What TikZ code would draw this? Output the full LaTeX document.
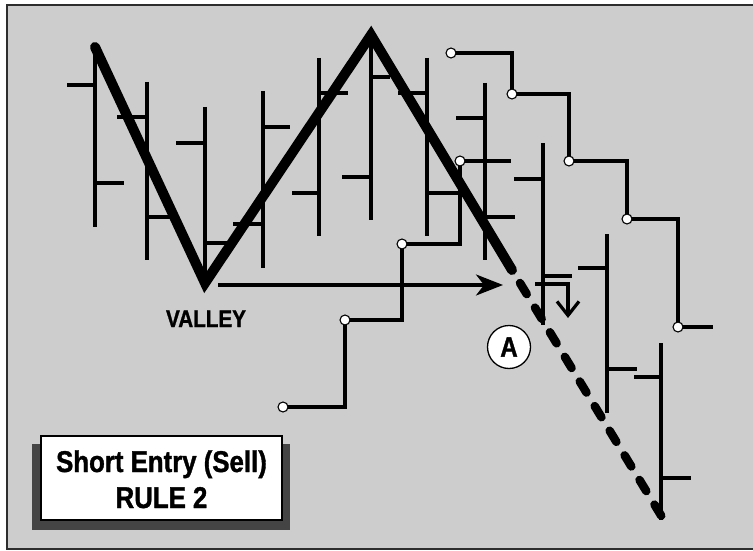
\documentclass[tikz,border=0pt]{standalone}
\usepackage{fontspec}
\newfontfamily\condsans[FakeStretch=0.86, BoldFeatures={FakeBold=1.2}]{Liberation Sans}
\usetikzlibrary{arrows.meta}
\definecolor{bggray}{RGB}{205,205,205}
\definecolor{framegray}{RGB}{45,45,45}
\definecolor{shadowgray}{RGB}{68,68,68}
\begin{document}
\begin{tikzpicture}[x=1pt,y=-1pt,
  barline/.style={line width=3.4pt},
  stepline/.style={line width=3.2pt, line join=miter},
  trendline/.style={line width=10pt, line join=miter, line cap=round},
  trenddash/.style={line width=8.5pt, line cap=round, dash pattern=on 13pt off 15.8pt},
  dot/.style={circle, fill=white, draw=black, line width=1.1pt, minimum size=10pt, inner sep=0pt},
  lbl/.style={font=\condsans\bfseries\fontsize{24}{24}\selectfont, inner sep=0pt},
  boxtxt/.style={font=\condsans\bfseries\fontsize{30}{30}\selectfont, inner sep=0pt}
]
\useasboundingbox (0,0) rectangle (753,551);
\fill[white] (0,0) rectangle (753,551);
\fill[bggray] (7,5) rectangle (753,549);
\draw[framegray, line width=2.5pt] (753,5) -- (7,5) -- (7,549) -- (753,549);

% price bars: x / high / low / open y / open x / close y / close x
\foreach \x/\hi/\lo/\op/\ox/\cl/\cx in {
  95/47/227/85/67/183/124,
  147/82/260/117/117/217/176,
  205/107/283/143/176/243/232,
  263/91/268/224/233/127/290,
  319/58/236/193/292/93/348,
  371/35/220/177/342/77/390,
  427/58/236/93/398/193/458,
  485/83/260/118/456/217/515,
  543/143/325/179/514/276/572,
  607/234/413/268/578/369/637,
  661/343/520/377/634/478/691}{
  \draw[barline] (\x,\hi) -- (\x,\lo);
  \draw[barline] (\ox,\op) -- (\x,\op);
  \draw[barline] (\x,\cl) -- (\cx,\cl);
}

% descending step line
\coordinate (p1) at (451,53);
\coordinate (p2) at (512,94);
\coordinate (p3) at (569,161);
\coordinate (p4) at (627,219);
\coordinate (p5) at (678,327);
\coordinate (e5) at (713,327);
\draw[stepline] (p1) -| (p2) -| (p3) -| (p4) -| (p5) -- (e5);

% ascending step line
\coordinate (q1) at (283,407);
\coordinate (q2) at (345,320);
\coordinate (q3) at (402,244);
\coordinate (q4) at (460,161);
\coordinate (e4) at (511,161);
\draw[stepline] (q1) -| (q2) -| (q3) -| (q4) -- (e4);

\foreach \p in {p1,p2,p3,p4,p5,q1,q2,q3,q4}{
  \node[dot] at (\p) {};
}

% horizontal arrow from the valley
\coordinate (arrstart) at (218,285);
\coordinate (arrtip) at (503,285);
\draw[line width=3.2pt, -{Stealth[length=27pt,width=21pt,inset=8pt]}] (arrstart) -- (arrtip);

% trend line
\coordinate (start) at (95,47);
\coordinate (valley) at (205,283);
\coordinate (peak) at (371,35);
\coordinate (brk) at (512,270);
\coordinate (dstart) at (520,283);
\coordinate (dend) at (662,517);
\draw[trendline] (start) -- (valley) -- (peak) -- (brk);
\draw[trenddash] (dstart) -- (dend);

% down arrow
\coordinate (dn1) at (535,284);
\coordinate (dn2) at (568,284);
\coordinate (dn3) at (568,318);
\draw[line width=3.2pt, line join=miter, -{Straight Barb[length=14pt,width=22pt]}] (dn1) -- (dn2) -- (dn3);

% labels
\node[lbl, anchor=base] (valleylbl) at (206,327) {VALLEY};
\node[circle, draw=black, fill=white, line width=1.3pt, minimum size=43pt, inner sep=0pt,
      font=\condsans\bfseries\fontsize{28}{28}\selectfont] (A) at (509,347) {A};

% rule box
\fill[shadowgray] (32,444) rectangle (290,530);
\node[draw=black, fill=white, line width=2pt, minimum width=241pt, minimum height=84pt, inner sep=0pt] (rulebox) at (161.5,478) {};
\node[boxtxt, anchor=base] (l1) at (161.5,472) {Short Entry (Sell)};
\node[boxtxt, anchor=base] (l2) at (161.5,508) {RULE 2};
\end{tikzpicture}
\end{document}
